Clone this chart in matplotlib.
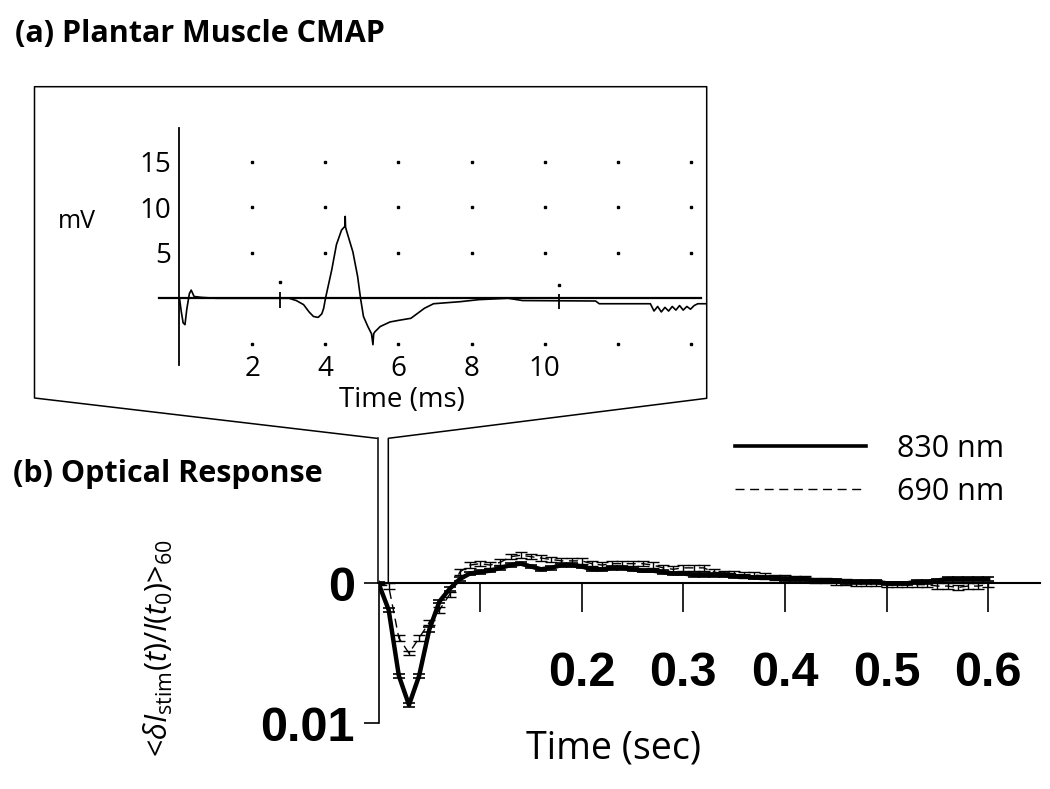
import numpy as np
import matplotlib
matplotlib.use("Agg")
import matplotlib.pyplot as plt
from matplotlib.lines import Line2D

plt.rcParams['font.family'] = ['Open Sans', 'DejaVu Sans']
plt.rcParams['mathtext.fontset'] = 'custom'
plt.rcParams['mathtext.rm'] = 'Open Sans'
plt.rcParams['mathtext.it'] = 'Open Sans:italic'
plt.rcParams['lines.scale_dashes'] = False

W, H = 1050, 789

# ---- (a) CMAP trace, time in ms, amplitude in mV
cmap_t = [0, 0.05, 0.1, 0.15, 0.2, 0.27, 0.32, 0.4, 0.6, 1.0, 2.0, 3.0, 3.2, 3.4,
          3.55, 3.67, 3.8, 3.9, 3.95, 4.0, 4.17, 4.3, 4.44, 4.53, 4.54, 4.55, 4.6,
          4.75, 4.88, 4.96, 5.04, 5.16, 5.26, 5.3, 5.32, 5.35, 5.5, 5.77, 6.04, 6.34,
          6.71, 6.96, 7.7, 8.2, 9.0, 9.4, 11.4, 11.5, 12.9, 13.0, 13.1, 13.2, 13.3,
          13.4, 13.5, 13.6, 13.7, 13.8, 13.9, 14.0, 14.1, 14.2, 14.4]
cmap_mv = [0, -1.5, -2.7, -2.9, -1.2, 0.5, 0.9, 0.2, 0.1, 0.0, 0.0, 0.0, -0.25, -0.7,
           -1.5, -2.0, -2.1, -1.7, -1.1, 0.0, 3.1, 5.9, 7.5, 7.9, 9.0, 7.8, 7.1,
           5.1, 2.4, 0.0, -2.0, -3.1, -3.9, -5.1, -3.9, -3.7, -3.1, -2.6, -2.4, -2.2,
           -1.1, -0.6, -0.37, -0.15, 0.0, -0.25, -0.3, -0.6, -0.6, -1.4, -0.9, -1.5, -1.0,
           -1.4, -0.9, -1.3, -0.8, -1.3, -0.9, -1.2, -0.8, -0.6, -0.6]
cmap_xticks = [2, 4, 6, 8, 10]
cmap_yticks = [5, 10, 15]
grid_x = [2, 4, 6, 8, 10, 12, 14]
grid_y = [15, 10, 5, -5]
# cursor marks of the recording software
cursor_t = [2.75, 10.4]
cursor_lo = [-1.1, -1.2]
cursor_hi = [0.7, 0.5]

# ---- (b) optical response, time in s
t_sec = np.round(np.arange(0, 0.605, 0.01), 2)
resp_830 = [0, 0.0019, 0.0066, 0.0087, 0.0066, 0.0033, 0.0013, 0.0004, -0.0003, -0.0007,
            -0.0008, -0.0009, -0.0011, -0.0013, -0.0014, -0.0012, -0.0010, -0.0011, -0.0013, -0.0013,
            -0.0012, -0.0010, -0.0010, -0.0011, -0.0011, -0.0010, -0.0009, -0.0009, -0.0008, -0.0007,
            -0.0007, -0.0006, -0.0006, -0.0006, -0.0006, -0.0005, -0.0005, -0.0004, -0.0004, -0.0004,
            -0.0003, -0.0003, -0.0003, -0.0002, -0.0002, -0.0002, -0.0001, -0.0001, -0.0001, -0.0001,
            0, 0, 0, -0.0001, -0.0001, -0.0002, -0.0003, -0.0003, -0.0003, -0.0003, -0.0003]
err_830 = [0.0001, 0.00015, 0.00015, 0.00012, 0.00015, 0.00015, 0.00012, 0.00012, 0.00012, 0.00012,
           0.00012, 0.00012, 0.00012, 0.00012, 0.00012, 0.00012, 0.00012, 0.00012, 0.00012, 0.00012,
           0.00012, 0.00012, 0.00012, 0.00012, 0.00012, 0.00012, 0.00012, 0.00012, 0.00012, 0.00012,
           0.00012, 0.00012, 0.00012, 0.00012, 0.00012, 0.00012, 0.00012, 0.00012, 0.00012, 0.00012,
           0.00012, 0.00012, 0.00012, 0.00012, 0.00012, 0.00012, 0.00012, 0.00012, 0.00012, 0.00012,
           0.00012, 0.00012, 0.00012, 0.00012, 0.00012, 0.00012, 0.00012, 0.00012, 0.00012, 0.00012, 0.00012]
resp_690 = [0, 0.0002, 0.0039, 0.0050, 0.0039, 0.0028, 0.0019, 0.0008, -0.0008, -0.0013,
            -0.0014, -0.0013, -0.0015, -0.0019, -0.0020, -0.0019, -0.0018, -0.0017, -0.0016, -0.0016,
            -0.0016, -0.0014, -0.0013, -0.0014, -0.0014, -0.0014, -0.0014, -0.0013, -0.0011, -0.0010,
            -0.0011, -0.0011, -0.0011, -0.0008, -0.0007, -0.0007, -0.0006, -0.0006, -0.0005, -0.0004,
            -0.0004, -0.0003, -0.0003, -0.0002, -0.0002, -0.0001, -0.0001, 0, 0, 0,
            0.0001, 0.0001, 0.0001, 0.0001, 0.0001, 0.0002, 0.0002, 0.0003, 0.0002, 0.0002, 0.0001]
err_690 = [0.0001, 0.0002, 0.0002, 0.00015, 0.0002, 0.0002, 0.0002, 0.0002, 0.0002, 0.0002,
           0.0002, 0.0002, 0.0002, 0.0002, 0.0002, 0.0002, 0.0002, 0.0002, 0.0002, 0.0002,
           0.0002, 0.0002, 0.0002, 0.0002, 0.0002, 0.0002, 0.0002, 0.0002, 0.0002, 0.0002,
           0.0002, 0.0002, 0.0002, 0.0002, 0.0002, 0.0002, 0.0002, 0.0002, 0.0002, 0.0002,
           0.0002, 0.0002, 0.0002, 0.0002, 0.0002, 0.0002, 0.0002, 0.0002, 0.0002, 0.0002,
           0.0002, 0.0002, 0.0002, 0.0002, 0.0002, 0.0002, 0.0002, 0.0002, 0.0002, 0.0002, 0.0002]
resp_xticks = [0.1, 0.2, 0.3, 0.4, 0.5, 0.6]
resp_xlabels = ['', '0.2', '0.3', '0.4', '0.5', '0.6']


def fx(x):
    return x / W


def fy(y):
    return 1 - y / H


def rect(left, top, right, bottom):
    return [fx(left), fy(bottom), (right - left) / W, (bottom - top) / H]


fig = plt.figure(figsize=(W / 100, H / 100), dpi=100)

# ---------------- inset (a)
ax1 = fig.add_axes(rect(140, 115, 720, 380))
ax1.patch.set_visible(False)
ax1.plot(cmap_t, cmap_mv, color='black', lw=1.2)
gx, gy = np.meshgrid(grid_x, grid_y)
ax1.plot(gx.ravel(), gy.ravel(), 's', color='black', ms=2)
ax1.vlines(cursor_t, cursor_lo, cursor_hi, color='black', lw=1.3)
ax1.plot(cursor_t, [1.8, 1.5], 's', color='black', ms=2)
ax1.set_xlim(-1.082, 14.808)
ax1.set_ylim(-8.98, 20.14)
for s in ['top', 'right']:
    ax1.spines[s].set_visible(False)
ax1.spines['left'].set_position(('data', 0))
ax1.spines['left'].set_bounds(-7.3, 18.7)
ax1.spines['left'].set_linewidth(1.3)
ax1.spines['bottom'].set_position(('data', 0))
ax1.spines['bottom'].set_bounds(-0.55, 14.3)
ax1.spines['bottom'].set_linewidth(1.6)
ax1.set_xticks(cmap_xticks)
ax1.set_yticks(cmap_yticks)
ax1.tick_params(axis='x', length=0, pad=41, labelsize=20)
ax1.tick_params(axis='y', length=0, pad=6, labelsize=20)
fig.text(fx(77), fy(221), 'mV', fontsize=18, ha='center', va='center')
fig.text(fx(402), fy(400), 'Time (ms)', fontsize=20, ha='center', va='center')

# box around inset and the connector to panel (b)
lk = dict(color='black', lw=1.1, transform=fig.transFigure)
fig.add_artist(Line2D([fx(376.7), fx(34.5), fx(34.5), fx(706.7), fx(706.7), fx(388.3), fx(388.3)],
                      [fy(438.3), fy(398), fy(86.7), fy(86.7), fy(398.3), fy(438.3), fy(583)], **lk))
fig.add_artist(Line2D([fx(378.3), fx(378.3)], [fy(438.3), fy(583)], **lk))

# ---------------- main (b)
ax = fig.add_axes(rect(378.5, 520, 1040, 735))
ax.patch.set_visible(False)
e1 = ax.errorbar(t_sec, resp_830, yerr=err_830, color='black', lw=3.2,
                 elinewidth=1.2, capsize=4, capthick=1.2, label='830 nm')
e2 = ax.errorbar(t_sec, resp_690, yerr=err_690, color='black', lw=1.0,
                 elinewidth=1.0, capsize=4, capthick=1.0, label='690 nm')
e2[0].set_dashes((6.5, 4))
ax.set_xlim(0, 0.651)
ax.set_ylim(0.01084, -0.00452)
for s in ['top', 'right']:
    ax.spines[s].set_visible(False)
ax.spines['bottom'].set_position(('data', 0))
ax.spines['bottom'].set_linewidth(1.5)
ax.spines['left'].set_bounds(0, 0.01)
ax.spines['left'].set_linewidth(1.2)
ax.set_xticks(resp_xticks)
ax.set_xticklabels(resp_xlabels)
ax.set_yticks([0, 0.01])
ax.set_yticklabels(['0', '0.01'])
tickfont = dict(family='Liberation Sans', weight='bold', size=35)
for lab in ax.get_xticklabels() + ax.get_yticklabels():
    lab.set_fontproperties(matplotlib.font_manager.FontProperties(**tickfont))
ax.tick_params(axis='x', direction='out', length=21, width=1.2, pad=28)
ax.tick_params(axis='y', direction='out', length=11, width=1.2, pad=6)

leg_solid = Line2D([], [], color='black', lw=2.6)
leg_dash = Line2D([], [], color='black', lw=1.0, dashes=(6.5, 4))
fig.legend([leg_solid, leg_dash], ['830 nm', '690 nm'], loc='upper left',
           bbox_to_anchor=(fx(735), fy(434)), frameon=False, fontsize=22,
           handlelength=4.3, handletextpad=1.0, borderpad=0, borderaxespad=0,
           labelspacing=0.42)

fig.text(fx(614), fy(749), 'Time (sec)', fontsize=27, ha='center', va='center')
fig.text(fx(158), fy(648), r'<$\delta I_{\rm stim}(t)/I(t_0)$>$_{60}$',
         fontsize=22, rotation=90, ha='center', va='center')

fig.text(fx(15), fy(42), '(a) Plantar Muscle CMAP', fontsize=22, weight='bold',
         ha='left', va='baseline')
fig.text(fx(13), fy(482), '(b) Optical Response', fontsize=22, weight='bold',
         ha='left', va='baseline')

fig.savefig('out.png', dpi=100)
